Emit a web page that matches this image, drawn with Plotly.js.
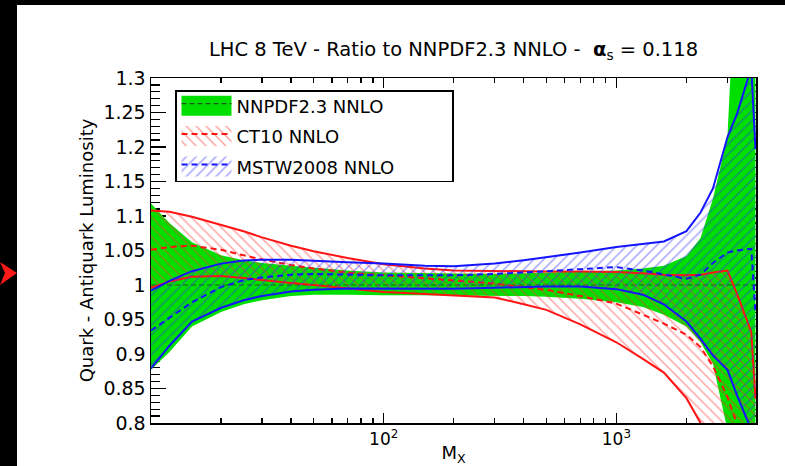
<!DOCTYPE html>
<html><head><meta charset="utf-8">
<script src="https://cdn.plot.ly/plotly-3.0.1.min.js"></script>
<style>html,body{margin:0;padding:0;background:#fff;}#chart{width:785px;height:466px;}</style>
</head><body><div id="chart"></div>
<script>
// Invariant mass grid (GeV)
const mass = [10, 12, 15, 20, 25, 30, 40, 50, 70, 100, 150, 200, 300, 400, 500, 700, 1000, 1300, 1600, 2000, 2300, 2600, 3000, 3300, 3800, 3960];

// NNPDF2.3 NNLO (reference set: central = 1)
const nnpdfLower   = [0.877, 0.903, 0.940, 0.961, 0.972, 0.978, 0.984, 0.986, 0.986, 0.985, 0.985, 0.985, 0.985, 0.984, 0.983, 0.980, 0.975, 0.968, 0.957, 0.940, 0.917, 0.886, 0.790, 0.700, 0.600, 0.600];
const nnpdfCentral = [1, 1, 1, 1, 1, 1, 1, 1, 1, 1, 1, 1, 1, 1, 1, 1, 1, 1, 1, 1, 1, 1, 1, 1, 1, 1];
const nnpdfUpper   = [1.118, 1.090, 1.062, 1.043, 1.036, 1.032, 1.028, 1.025, 1.021, 1.018, 1.017, 1.016, 1.016, 1.017, 1.018, 1.019, 1.021, 1.024, 1.028, 1.042, 1.068, 1.125, 1.214, 1.500, 1.600, 1.600];

// CT10 NNLO
const ct10Lower   = [0.996, 1.005, 1.012, 1.013, 1.010, 1.007, 1.003, 1.000, 0.995, 0.990, 0.987, 0.985, 0.982, 0.972, 0.964, 0.943, 0.917, 0.893, 0.873, 0.836, 0.800, 0.760, 0.700, 0.650, 0.600, 0.580];
const ct10Central = [1.051, 1.055, 1.057, 1.051, 1.043, 1.037, 1.029, 1.024, 1.018, 1.014, 1.009, 1.006, 1.002, 0.997, 0.993, 0.984, 0.973, 0.957, 0.944, 0.928, 0.910, 0.882, 0.838, 0.798, 0.740, 0.720];
const ct10Upper   = [1.108, 1.106, 1.099, 1.087, 1.078, 1.069, 1.057, 1.049, 1.039, 1.030, 1.024, 1.021, 1.020, 1.020, 1.0195, 1.0195, 1.019, 1.017, 1.015, 1.014, 1.015, 1.018, 1.021, 0.987, 0.932, 0.835];

// MSTW2008 NNLO
const mstwLower   = [0.879, 0.912, 0.947, 0.967, 0.978, 0.984, 0.9906, 0.993, 0.995, 0.995, 0.9945, 0.9945, 0.996, 0.997, 0.998, 0.998, 0.994, 0.986, 0.972, 0.947, 0.922, 0.898, 0.877, 0.840, 0.790, 0.770];
const mstwCentral = [0.934, 0.952, 0.975, 0.997, 1.007, 1.011, 1.015, 1.016, 1.015, 1.014, 1.014, 1.014, 1.016, 1.018, 1.020, 1.023, 1.026, 1.021, 1.015, 1.009, 1.015, 1.032, 1.047, 1.050, 1.0525, 0.960];
const mstwUpper   = [0.992, 1.006, 1.020, 1.031, 1.0355, 1.0365, 1.0365, 1.0355, 1.033, 1.031, 1.028, 1.027, 1.031, 1.036, 1.040, 1.047, 1.055, 1.059, 1.063, 1.078, 1.105, 1.140, 1.214, 1.248, 1.315, 1.197];

const seriesNames = ['NNPDF2.3 NNLO', 'CT10 NNLO', 'MSTW2008 NNLO'];

// Axis ticks
const yTickVals = [0.8, 0.85, 0.9, 0.95, 1, 1.05, 1.1, 1.15, 1.2, 1.25, 1.3];
const yTickText = ['0.8', '0.85', '0.9', '0.95', '1', '1.05', '1.1', '1.15', '1.2', '1.25', '1.3'];
const xTickVals = [100, 1000];
const xTickText = ['10<sup>2</sup>', '10<sup>3</sup>'];
const xMinorVals = [20, 30, 40, 50, 60, 70, 80, 90, 200, 300, 400, 500, 600, 700, 800, 900, 2000, 3000];

const FONT = 'DejaVu Sans, Liberation Sans, Arial, sans-serif';
const GREEN = '#00e000';

function band(lower, central, upper, name, group, lineColor, centralLine, fill) {
  const common = {x: mass, type: 'scatter', legendgroup: group, hoverinfo: 'skip'};
  const solid = lineColor
    ? {mode: 'lines', line: {color: lineColor, width: 2}}
    : {mode: 'lines', line: {color: 'rgba(0,0,0,0)', width: 0.1}};
  const fillProps = fill.pattern
    ? {fill: 'tonexty', fillcolor: 'rgba(0,0,0,0)', fillpattern: fill.pattern}
    : {fill: 'tonexty', fillcolor: fill.color};
  return [
    Object.assign({}, common, solid, {y: lower, showlegend: false}),
    Object.assign({}, common, {y: central, mode: 'lines', line: centralLine, name: name, showlegend: true}, fillProps),
    Object.assign({}, common, solid, {y: upper, showlegend: false}, fillProps)
  ];
}

const data = [].concat(
  band(nnpdfLower, nnpdfCentral, nnpdfUpper, seriesNames[0], 'a', null,
       {color: '#1d5a1d', width: 1.2, dash: '5px,3px'}, {color: GREEN}),
  band(ct10Lower, ct10Central, ct10Upper, seriesNames[1], 'b', '#ff1414',
       {color: '#ff1414', width: 2, dash: '6px,4px'},
       {pattern: {shape: '\\', fgcolor: '#ff3030', fgopacity: 0.45, bgcolor: 'rgba(255,255,255,0)', size: 7, solidity: 0.22}}),
  band(mstwLower, mstwCentral, mstwUpper, seriesNames[2], 'c', '#1414ff',
       {color: '#1414ff', width: 2, dash: '6px,4px'},
       {pattern: {shape: '/', fgcolor: '#3030ff', fgopacity: 0.45, bgcolor: 'rgba(255,255,255,0)', size: 7, solidity: 0.22}})
);

// pixel -> paper helpers for decorative frame (plot area 151..756 x 78..423)
const L = 151, R = 29, T = 78, B = 43, W = 785, H = 466;
const pw = W - L - R, ph = H - T - B;
const px = v => (v - L) / pw;
const py = v => (H - B - v) / ph;

const layout = {
  width: W, height: H,
  margin: {l: L, r: R, t: T, b: B, pad: 0},
  paper_bgcolor: '#ffffff', plot_bgcolor: '#ffffff',
  font: {family: FONT, color: '#000', size: 17},
  title: {
    text: 'LHC 8 TeV - Ratio to NNPDF2.3 NNLO -\u00a0 <b>\u03b1</b><sub>s</sub> = 0.118',
    font: {family: FONT, size: 19.5, color: '#000'},
    x: 0.5, xref: 'paper', xanchor: 'center', y: 1 - 49 / H, yref: 'container', yanchor: 'middle'
  },
  showlegend: true,
  legend: {
    x: px(175), y: py(86), xanchor: 'left', yanchor: 'top',
    bgcolor: '#ffffff', bordercolor: '#000', borderwidth: 1.5,
    font: {family: FONT, size: 18, color: '#000'},
    itemwidth: 50, traceorder: 'grouped', tracegroupgap: 4,
    itemclick: false, itemdoubleclick: false
  },
  xaxis: {
    type: 'log', range: [1, 3.6], autorange: false,
    showline: true, linecolor: '#000', linewidth: 1.5, mirror: 'ticks',
    ticks: 'inside', ticklen: 10, tickwidth: 1.3, tickcolor: '#000',
    tickmode: 'array', tickvals: xTickVals, ticktext: xTickText,
    minor: {tickmode: 'array', tickvals: xMinorVals, ticks: 'inside', ticklen: 5, tickwidth: 1.3, tickcolor: '#000', showgrid: false},
    tickfont: {family: FONT, size: 17, color: '#000'},
    showgrid: false, zeroline: false, layer: 'below traces',
    title: {text: 'M<sub>X</sub>', font: {family: FONT, size: 18, color: '#000'}, standoff: 0}
  },
  yaxis: {
    range: [0.8, 1.3], autorange: false,
    showline: true, linecolor: '#000', linewidth: 1.5, mirror: 'ticks',
    ticks: 'inside', ticklen: 15, tickwidth: 1.3, tickcolor: '#000',
    tickmode: 'array', tickvals: yTickVals, ticktext: yTickText,
    minor: {dtick: 0.01, tick0: 0.8, ticks: 'inside', ticklen: 9, tickwidth: 1.3, tickcolor: '#000', showgrid: false},
    tickfont: {family: FONT, size: 19, color: '#000'},
    showgrid: false, zeroline: false, layer: 'below traces',
    title: {text: 'Quark - Antiquark Luminosity', font: {family: FONT, size: 18, color: '#000'}, standoff: 5}
  },
  shapes: [
    {type: 'rect', xref: 'paper', yref: 'paper', x0: px(0), x1: px(17), y0: py(H), y1: py(0), fillcolor: '#000', line: {width: 0}, layer: 'below'},
    {type: 'rect', xref: 'paper', yref: 'paper', x0: px(0), x1: px(W), y0: py(5), y1: py(0), fillcolor: '#000', line: {width: 0}, layer: 'below'},
    {type: 'path', xref: 'paper', yref: 'paper', layer: 'above', fillcolor: '#ff1a1a', line: {width: 0},
     path: 'M' + px(0) + ',' + py(262) + ' L' + px(17) + ',' + py(273) + ' L' + px(0) + ',' + py(285) + ' L' + px(5) + ',' + py(273) + ' Z'}
  ]
};

Plotly.newPlot('chart', data, layout, {displayModeBar: false, staticPlot: true}).then(function (gd) {
  // enlarge legend swatches to box style and fit the legend frame to the reference box
  gd.querySelectorAll('.legend .legendfill path').forEach(function (p) {
    const bb = p.getBBox();
    p.setAttribute('d', 'M' + bb.x + ',-10h' + bb.width + 'v20h-' + bb.width + 'z');
  });
  const bg = gd.querySelector('.legend rect.bg');
  if (bg) {
    bg.setAttribute('width', 277);
    bg.setAttribute('y', 4.75);
    bg.setAttribute('height', 90.5);
  }
});
</script>
</body></html>
